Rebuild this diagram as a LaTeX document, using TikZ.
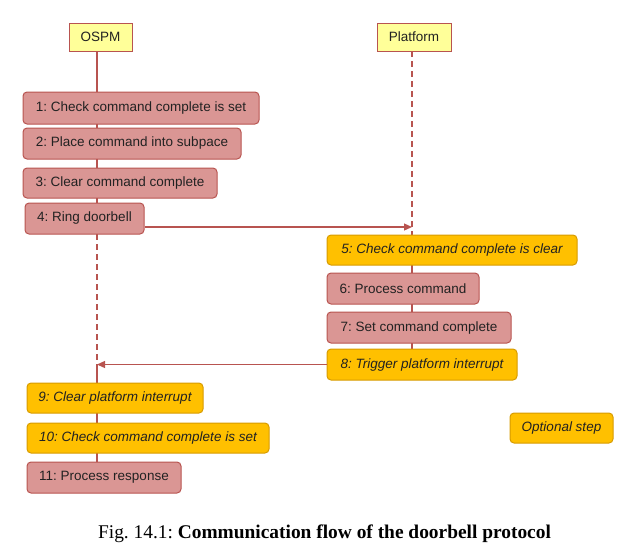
\documentclass[tikz,border=0pt]{standalone}
\usepackage{fontspec}
\setmainfont{Liberation Serif}
\newfontfamily\boxfont{Liberation Sans}
\usetikzlibrary{arrows.meta}
\definecolor{pinkfill}{HTML}{DA9694}
\definecolor{pinkdraw}{HTML}{B85450}
\definecolor{ambfill}{HTML}{FFC000}
\definecolor{ambdraw}{HTML}{D79B00}
\definecolor{hdrfill}{HTML}{FFFF99}
\definecolor{txt}{HTML}{222222}
\tikzset{
  x=1pt, y=-1pt,
  base/.style={rounded corners=4pt, line width=1pt, inner sep=0pt,
    font=\boxfont\fontsize{13.5}{15}\selectfont, text=txt},
  pinkbox/.style={base, fill=pinkfill, draw=pinkdraw},
  ambbox/.style={base, fill=ambfill, draw=ambdraw, font=\boxfont\itshape\fontsize{13.5}{15}\selectfont},
  hdrbox/.style={base, rounded corners=0pt, fill=hdrfill, draw=pinkdraw},
  life/.style={draw=pinkdraw, line width=1.2pt},
  lifedash/.style={life, dash pattern=on 6pt off 4pt},
  msg/.style={draw=pinkdraw, line width=1.2pt, -{Triangle[length=8pt,width=7pt]}},
}
\newcommand{\bx}[7]{% style, name, x1, y1, x2, y2, text
  \node[#1, minimum width={#5-#3}, minimum height={#6-#4}] (#2) at ({(#3+#5)/2},{(#4+#6)/2}) {#7};}
\begin{document}
\frenchspacing
\begin{tikzpicture}
\useasboundingbox (0,0) rectangle (636,558);
% header boxes
\bx{hdrbox}{ospm}{69}{23}{132}{51}{OSPM}
\bx{hdrbox}{plat}{377}{23}{451}{51}{Platform}
% lifeline coordinates
\coordinate (oA) at (97,51);
\coordinate (oB) at (97,234);
\coordinate (oC) at (97,364.5);
\coordinate (oD) at (97,490);
\coordinate (pA) at (412,51);
\coordinate (pB) at (412,227);
\coordinate (pC) at (412,235);
\coordinate (pD) at (412,380);
\draw[life] (oA) -- (oB);
\draw[lifedash] (oB) -- (oC);
\draw[life] (oC) -- (oD);
\draw[lifedash] (pA) -- (pC);
\draw[life] (pC) -- (pD);
% OSPM steps
\bx{pinkbox}{s1}{23}{92}{259}{124}{1: Check command complete is set}
\bx{pinkbox}{s2}{23}{128}{241}{159}{2: Place command into subpace}
\bx{pinkbox}{s3}{23}{168}{217}{198}{3: Clear command complete}
\bx{pinkbox}{s4}{25}{203}{144}{234}{4: Ring doorbell}
% Platform steps
\bx{ambbox}{s5}{327}{235}{577}{265}{5: Check command complete is clear}
\bx{pinkbox}{s6}{327}{273}{479}{304}{6: Process command}
\bx{pinkbox}{s7}{327}{312}{511}{343}{7: Set command complete}
\bx{ambbox}{s8}{327}{349}{517}{380}{8: Trigger platform interrupt}
% OSPM final steps
\bx{ambbox}{s9}{27}{383}{203}{413}{9: Clear platform interrupt}
\bx{ambbox}{s10}{27}{423}{269}{453}{10: Check command complete is set}
\bx{pinkbox}{s11}{27}{462}{181}{493}{11: Process response}
% legend
\bx{ambbox}{opt}{510}{413}{613}{443}{Optional step}
% messages
\draw[msg] (s4.east |- 0,227) -- (pB);
\draw[msg] (s8.west) -- (oC);
% caption
\node[anchor=base, font=\fontsize{19.4}{22}\selectfont, inner sep=0pt] (cap) at (324.5,538)
  {Fig. 14.1: \textbf{Communication flow of the doorbell protocol}};
\end{tikzpicture}
\end{document}
